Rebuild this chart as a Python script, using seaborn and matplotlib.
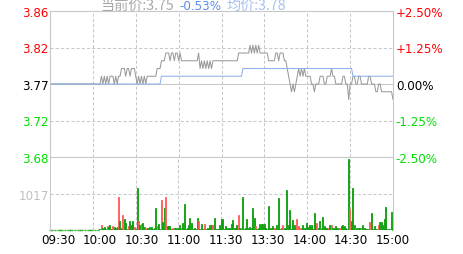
import numpy as np
import pandas as pd
import matplotlib
matplotlib.use("Agg")
import matplotlib.pyplot as plt
import seaborn as sns

# ---------------- data ----------------
prev_close = 3.77
time_labels = ["09:30", "10:00", "10:30", "11:00", "11:30", "13:30", "14:00", "14:30", "15:00"]
price_labels = ["3.86", "3.82", "3.77", "3.72", "3.68"]
pct_labels = ["+2.50%", "+1.25%", "0.00%", "-1.25%", "-2.50%"]
pct_levels = [0.025, 0.0125, 0.0, -0.0125, -0.025]
vol_label = "1017"
vol_max = 2034

header_price = "当前价:3.75"
header_change = "-0.53%"
header_avg = "均价:3.78"

price = [
    3.77, 3.77, 3.77, 3.77, 3.77, 3.77, 3.77, 3.77, 3.77, 3.77,
    3.77, 3.77, 3.77, 3.77, 3.77, 3.77, 3.77, 3.77, 3.77, 3.77,
    3.77, 3.77, 3.77, 3.77, 3.77, 3.77, 3.77, 3.77, 3.77, 3.77,
    3.77, 3.77, 3.77, 3.77, 3.77, 3.77, 3.78, 3.77, 3.78, 3.77,
    3.78, 3.77, 3.78, 3.78, 3.78, 3.77, 3.78, 3.77, 3.78, 3.78,
    3.79, 3.79, 3.79, 3.78, 3.79, 3.79, 3.78, 3.79, 3.79, 3.79,
    3.78, 3.77, 3.78, 3.77, 3.78, 3.77, 3.78, 3.77, 3.78, 3.78,
    3.78, 3.78, 3.78, 3.78, 3.78, 3.79, 3.79, 3.79, 3.80, 3.80,
    3.80, 3.81, 3.81, 3.81, 3.80, 3.81, 3.81, 3.80, 3.81, 3.81,
    3.80, 3.81, 3.80, 3.80, 3.80, 3.80, 3.80, 3.80, 3.80, 3.80,
    3.80, 3.80, 3.80, 3.80, 3.81, 3.79, 3.80, 3.79, 3.80, 3.79,
    3.80, 3.79, 3.80, 3.79, 3.80, 3.80, 3.80, 3.80, 3.80, 3.80,
    3.80, 3.80, 3.80, 3.80, 3.80, 3.80, 3.80, 3.80, 3.80, 3.80,
    3.80, 3.80, 3.81, 3.81, 3.81, 3.81, 3.81, 3.81, 3.81, 3.81,
    3.82, 3.81, 3.82, 3.81, 3.82, 3.81, 3.82, 3.81, 3.81, 3.81,
    3.81, 3.81, 3.81, 3.80, 3.80, 3.80, 3.80, 3.80, 3.81, 3.81,
    3.80, 3.81, 3.81, 3.81, 3.80, 3.80, 3.79, 3.78, 3.77, 3.76,
    3.77, 3.76, 3.77, 3.78, 3.79, 3.78, 3.79, 3.78, 3.79, 3.78,
    3.78, 3.78, 3.78, 3.77, 3.77, 3.76, 3.77, 3.77, 3.77, 3.78,
    3.78, 3.78, 3.77, 3.77, 3.78, 3.78, 3.78, 3.79, 3.78, 3.78,
    3.77, 3.77, 3.77, 3.77, 3.77, 3.78, 3.78, 3.77, 3.77, 3.75,
    3.77, 3.77, 3.78, 3.78, 3.77, 3.77, 3.78, 3.78, 3.77, 3.77,
    3.77, 3.77, 3.77, 3.78, 3.78, 3.77, 3.77, 3.77, 3.76, 3.76,
    3.77, 3.77, 3.76, 3.76, 3.76, 3.76, 3.76, 3.76, 3.76, 3.76,
    3.75,
]

avg_price = [3.77] * 78 + [3.78] * 57 + [3.79] * 77 + [3.78] * 29

volume = [
    0, 0, 0, 0, 0, 0, 0, 0, 0, 0,
    0, 0, 0, 0, 0, 0, 0, 0, 0, 0,
    0, 0, 0, 0, 0, 0, 0, 0, 0, 0,
    0, 0, 0, 0, 0, 20, 126, 60, 90, 40,
    110, 90, 126, 30, 110, 90, 60, 80, 909, 261,
    45, 423, 315, 207, 30, 110, 261, 150, 261, 80,
    40, 1179, 261, 150, 170, 207, 70, 45, 45, 20,
    70, 90, 30, 45, 612, 100, 180, 40, 828, 230,
    612, 909, 100, 100, 100, 30, 60, 45, 45, 60,
    20, 150, 45, 207, 720, 20, 45, 150, 342, 207,
    30, 60, 20, 342, 261, 40, 180, 30, 180, 40,
    50, 30, 135, 153, 153, 342, 30, 40, 20, 126,
    315, 315, 30, 100, 60, 45, 45, 180, 288, 45,
    45, 144, 423, 45, 45, 909, 30, 60, 315, 45,
    80, 45, 612, 333, 100, 30, 45, 180, 180, 180,
    180, 45, 30, 666, 45, 45, 117, 60, 30, 126,
    882, 30, 45, 153, 60, 20, 1125, 153, 558, 20,
    288, 126, 40, 315, 100, 45, 45, 126, 60, 30,
    207, 90, 126, 153, 30, 477, 153, 207, 45, 261,
    45, 369, 100, 45, 45, 45, 153, 153, 45, 45,
    100, 45, 60, 45, 100, 153, 117, 45, 30, 1980,
    585, 261, 1179, 153, 30, 45, 45, 45, 45, 126,
    45, 30, 30, 20, 234, 477, 30, 100, 30, 30,
    153, 234, 234, 153, 315, 639, 18, 18, 18, 513,
    0,
]

red_minutes = [36, 40, 44, 48, 51, 55, 59, 62, 64, 67, 75, 78, 81, 86, 92,
               104, 108, 114, 132, 134, 144, 157, 163, 173, 174, 175, 176,
               187, 190, 195, 197, 203, 210, 214, 218, 224, 230]

# ---------------- figure ----------------
sns.set_style("white")
plt.rcParams["font.family"] = ["DejaVu Sans", "Noto Sans CJK SC"]

W, H = 463, 255
fig = plt.figure(figsize=(W / 100, H / 100), dpi=100)
axp = fig.add_axes([50 / W, (H - 158) / H, 343 / W, 146 / H])
axv = fig.add_axes([50 / W, (H - 231) / H, 343 / W, 73 / H])

minutes = np.arange(len(price))
df = pd.DataFrame({"minute": minutes, "price": price, "avg": avg_price, "volume": volume})
df["up"] = df["minute"].isin(red_minutes)

grid_c = "#c8c8c8"
lw1 = 0.75
dash = (0, (3, 2))
red = "#ff0000"
green = "#00e000"
fs = 8.6

# price panel
sns.lineplot(data=df, x="minute", y="price", ax=axp, color="#9a9a9a", linewidth=lw1)
sns.lineplot(data=df, x="minute", y="avg", ax=axp, color="#8fb0ee", linewidth=lw1)
ymin, ymax = prev_close * (1 - 0.025), prev_close * (1 + 0.025)
axp.set_xlim(0, 240)
axp.set_ylim(ymin, ymax)
levels = [prev_close * (1 + p) for p in pct_levels]
for lv, p in zip(levels, pct_levels):
    if p == 0:
        axp.axhline(lv, color=grid_c, lw=lw1, zorder=0)
    elif abs(p) < 0.02:
        axp.axhline(lv, color=grid_c, lw=lw1, ls=dash, zorder=0)
for xv in range(30, 240, 30):
    axp.axvline(xv, color=grid_c, lw=lw1, ls=dash, zorder=0)
    axv.axvline(xv, color=grid_c, lw=lw1, ls=dash, zorder=0)

axp.set_yticks(levels)
axp.set_yticklabels(price_labels)
lab_colors = [red, red, "black", green, green]
for t, c in zip(axp.get_yticklabels(), lab_colors):
    t.set_color(c)
axp.set_xticks([])
axp.set_xlabel("")
axp.set_ylabel("")
axp.tick_params(axis="y", length=0, pad=1, labelsize=fs)

axr = axp.twinx()
axr.set_ylim(ymin, ymax)
axr.set_yticks(levels)
axr.set_yticklabels(pct_labels)
for t, c in zip(axr.get_yticklabels(), lab_colors):
    t.set_color(c)
axr.tick_params(axis="y", length=0, pad=2, labelsize=fs)

for a in (axp, axr):
    for s in a.spines.values():
        s.set_color(grid_c)
        s.set_linewidth(lw1)

# volume panel
bar_colors = ["#ff5a5a" if u else "#0a9e0a" for u in df["up"]]
axv.bar(df["minute"], df["volume"], width=0.7, color=bar_colors,
        edgecolor=bar_colors, linewidth=0.6, zorder=2)
zero = df[df["volume"] == 0]
axv.hlines(np.zeros(len(zero)), zero["minute"] - 0.4, zero["minute"] + 0.4,
           color="#0a9e0a", lw=1.0, zorder=2, clip_on=False)
axv.set_xlim(0, 240)
axv.set_ylim(0, vol_max)
axv.axhline(vol_max / 2, color=grid_c, lw=lw1, ls=dash, zorder=0)
axv.set_yticks([vol_max / 2])
axv.set_yticklabels([vol_label])
axv.tick_params(axis="y", length=0, pad=1, labelsize=fs, labelcolor="#c0c0c0")
label_pos = np.linspace(5.6, 240.3, len(time_labels))
axv.set_xticks(label_pos)
axv.set_xticklabels(time_labels)
axv.tick_params(axis="x", length=0, pad=2, labelsize=fs, labelcolor="black")
axv.spines["top"].set_visible(False)
axv.spines["bottom"].set_visible(False)
for k in ("left", "right"):
    axv.spines[k].set_color(grid_c)
    axv.spines[k].set_linewidth(lw1)

# header
cjk = ["Noto Sans CJK SC", "DejaVu Sans"]
hy = 1 - 9.5 / H
fig.text(100 / W, hy, header_price, color="#a8a8a8", fontsize=10.2, family=cjk, va="baseline")
fig.text(179 / W, hy, header_change, color="#5b8de8", fontsize=fs, va="baseline")
fig.text(226 / W, hy, header_avg, color="#a8c0f0", fontsize=10.2, family=cjk, va="baseline")

fig.savefig("out.png", dpi=100)
